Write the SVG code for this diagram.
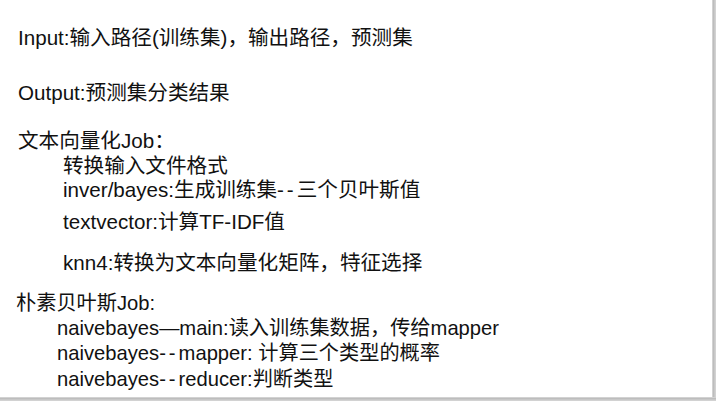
<svg xmlns="http://www.w3.org/2000/svg" width="716" height="401" viewBox="0 0 716 401">
<style>
text{font-family:"Liberation Sans","Noto Sans CJK SC",sans-serif;font-size:20.6px;fill:#111;}
.lo{font-size:20.2px;}
.hy{letter-spacing:3px;}
</style>
<rect x="0" y="0" width="716" height="401" fill="#ffffff"/>
<rect x="712" y="0" width="4" height="401" fill="#d2d2d2"/>
<rect x="713" y="0" width="1.5" height="401" fill="#bdbdbd"/>
<rect x="0" y="397" width="716" height="4" fill="#d2d2d2"/>
<rect x="0" y="398" width="716" height="1.5" fill="#bdbdbd"/>
<g id="io">
<text x="18" y="45">Input:输入路径(训练集)，输出路径，预测集</text>
<text x="18" y="100">Output:预测集分类结果</text>
</g>
<g id="job1">
<text x="18" y="148">文本向量化Job：</text>
<text x="63" y="173">转换输入文件格式</text>
<text x="63" y="197">inver/bayes:生成训练集<tspan class="hy">--</tspan>三个贝叶斯值</text>
<text x="63" y="229">textvector:计算TF-IDF值</text>
<text x="63" y="270">knn4:转换为文本向量化矩阵，特征选择</text>
</g>
<g id="job2">
<text class="lo" x="16" y="310">朴素贝叶斯Job:</text>
<text class="lo" x="57" y="335">naivebayes—main:读入训练集数据，传给mapper</text>
<text class="lo" x="57" y="360">naivebayes<tspan class="hy">--</tspan>mapper: 计算三个类型的概率</text>
<text class="lo" x="57" y="386">naivebayes<tspan class="hy">--</tspan>reducer:判断类型</text>
</g>
</svg>
